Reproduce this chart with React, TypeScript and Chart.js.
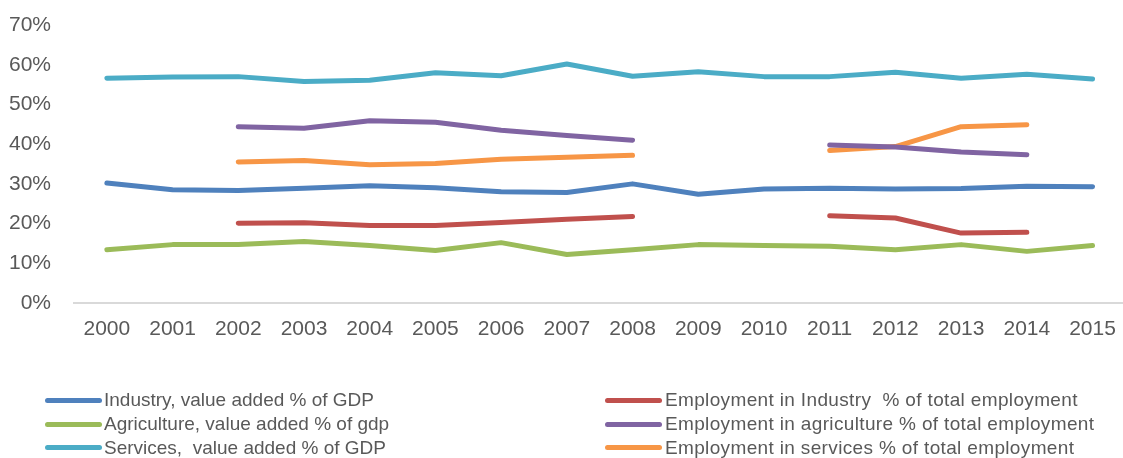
import React, { useEffect, useRef } from "react";
import { Chart, registerables } from "chart.js";

Chart.register(...registerables);

const years = ["2000","2001","2002","2003","2004","2005","2006","2007","2008","2009","2010","2011","2012","2013","2014","2015"];

const industryVA = [30.2, 28.5, 28.3, 28.9, 29.5, 29.0, 28.0, 27.8, 30.0, 27.4, 28.7, 28.9, 28.7, 28.8, 29.4, 29.3];
const agricultureVA = [13.4, 14.7, 14.7, 15.5, 14.5, 13.2, 15.2, 12.2, 13.4, 14.7, 14.5, 14.3, 13.4, 14.7, 13.0, 14.5];
const servicesVA = [56.6, 56.9, 57.0, 55.8, 56.1, 58.0, 57.2, 60.2, 57.1, 58.2, 57.0, 57.0, 58.1, 56.6, 57.6, 56.4];
const empIndustry = [null, null, 20.1, 20.2, 19.5, 19.5, 20.3, 21.1, 21.8, null, null, 22.0, 21.4, 17.6, 17.8, null];
const empAgriculture = [null, null, 44.4, 44.0, 45.9, 45.5, 43.5, 42.2, 41.0, null, null, 39.8, 39.3, 38.0, 37.3, null];
const empServices = [null, null, 35.5, 35.9, 34.8, 35.1, 36.2, 36.7, 37.2, null, null, 38.4, 39.4, 44.4, 44.9, null];

const yTicks = [0, 10, 20, 30, 40, 50, 60, 70];

const leftLegend = [
  { label: "Industry, value added % of GDP", color: "#4F81BD" },
  { label: "Agriculture, value added % of gdp", color: "#9BBB59" },
  { label: "Services,  value added % of GDP", color: "#4BACC6" },
];
const rightLegend = [
  { label: "Employment in Industry  % of total employment", color: "#C0504D" },
  { label: "Employment in agriculture % of total employment", color: "#8064A2" },
  { label: "Employment in services % of total employment", color: "#F79646" },
];

const FONT = "'Liberation Sans', Arial, sans-serif";
const TEXT = "#595959";
const W = 1130;
const H = 458;

export default function App() {
  const ref = useRef<HTMLCanvasElement | null>(null);

  useEffect(() => {
    if (!ref.current) return;
    const mk = (label: string, data: (number | null)[], color: string) => ({
      label,
      data,
      borderColor: color,
      backgroundColor: color,
      borderWidth: 5,
      borderCapStyle: "round" as const,
      borderJoinStyle: "round" as const,
      pointRadius: 0,
      pointHoverRadius: 0,
      tension: 0,
      spanGaps: false,
      fill: false,
    });
    const chart = new Chart(ref.current, {
      type: "line",
      data: {
        labels: years,
        datasets: [
          mk(leftLegend[0].label, industryVA, leftLegend[0].color),
          mk(rightLegend[0].label, empIndustry, rightLegend[0].color),
          mk(leftLegend[1].label, agricultureVA, leftLegend[1].color),
          mk(rightLegend[1].label, empAgriculture, rightLegend[1].color),
          mk(leftLegend[2].label, servicesVA, leftLegend[2].color),
          mk(rightLegend[2].label, empServices, rightLegend[2].color),
        ],
      },
      options: {
        responsive: false,
        animation: false,
        devicePixelRatio: 1,
        layout: { padding: { left: 0, right: W - 1127, top: 25, bottom: 0 } },
        plugins: { legend: { display: false }, tooltip: { enabled: false } },
        scales: {
          x: {
            offset: true,
            grid: { display: false, drawTicks: false },
            border: { display: true, color: "#D9D9D9", width: 2 },
            ticks: {
              autoSkip: false,
              maxRotation: 0,
              padding: 14,
              color: TEXT,
              font: { family: FONT, size: 21 },
            },
            afterFit: (s: any) => {
              s.height = H - 303;
            },
          },
          y: {
            min: 0,
            max: 70,
            afterBuildTicks: (s: any) => {
              s.ticks = yTicks.map((v) => ({ value: v }));
            },
            grid: { display: false, drawTicks: false },
            border: { display: false },
            ticks: {
              padding: 23,
              color: TEXT,
              font: { family: FONT, size: 21 },
              callback: (v: any) => v + "%",
            },
            afterFit: (s: any) => {
              s.width = 74;
              s.paddingTop = 0;
              s.paddingBottom = 0;
            },
          },
        },
      },
    });
    return () => chart.destroy();
  }, []);

  const rowY = [400, 424, 447.5];
  const renderCol = (items: { label: string; color: string }[], lineX: number, textX: number, spacing: number) =>
    items.map((it, i) => (
      <React.Fragment key={it.label}>
        <div
          style={{
            position: "absolute",
            left: lineX,
            top: rowY[i] - 2.5,
            width: 57,
            height: 5,
            borderRadius: 3,
            background: it.color,
          }}
        />
        <div
          style={{
            position: "absolute",
            left: textX,
            top: rowY[i] - 12,
            height: 24,
            lineHeight: "24px",
            fontFamily: FONT,
            fontSize: 19,
            letterSpacing: spacing,
            color: TEXT,
            whiteSpace: "pre",
          }}
        >
          {it.label}
        </div>
      </React.Fragment>
    ));

  return (
    <div
      style={{
        position: "fixed",
        left: 0,
        top: 0,
        width: W,
        height: H,
        overflow: "hidden",
        background: "#ffffff",
      }}
    >
      <canvas ref={ref} width={W} height={H} style={{ position: "absolute", left: 0, top: 0, width: W, height: H }} />
      {renderCol(leftLegend, 45, 104, 0)}
      {renderCol(rightLegend, 605, 665, 0.35)}
    </div>
  );
}
